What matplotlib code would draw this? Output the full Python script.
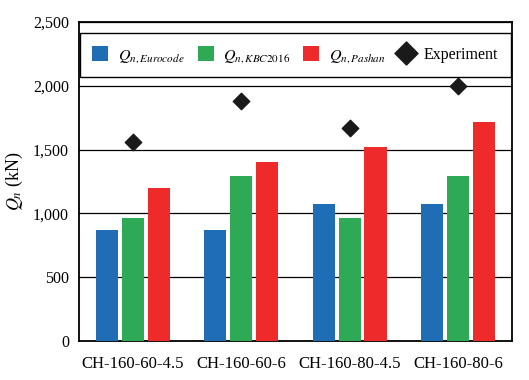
import matplotlib
matplotlib.use('Agg')
import matplotlib.pyplot as plt
import numpy as np

plt.rcParams['font.family'] = 'Liberation Serif'
plt.rcParams['mathtext.fontset'] = 'stix'

specimens = ['CH-160-60-4.5', 'CH-160-60-6', 'CH-160-80-4.5', 'CH-160-80-6']
eurocode = [868, 868, 1070, 1070]
kbc2016 = [960, 1290, 960, 1290]
pashan = [1198, 1400, 1520, 1715]
experiment = [1561, 1882, 1673, 2000]
yticks = [0, 500, 1000, 1500, 2000, 2500]

fig = plt.figure(figsize=(5.29, 3.80), dpi=100)
ax = fig.add_axes([0.149, 0.103, 0.819, 0.839])

x = np.arange(len(specimens))
w = 0.205
step = 0.24
b1 = ax.bar(x - step, eurocode, w, color='#1F6DB4', zorder=3)
b2 = ax.bar(x, kbc2016, w, color='#2EA955', zorder=3)
b3 = ax.bar(x + step, pashan, w, color='#EE2A2A', zorder=3)
sc = ax.scatter(x, experiment, marker='D', s=70, color='#1a1a1a', zorder=4)

ax.set_xlim(-0.5, 3.5)
ax.set_ylim(0, 2500)
ax.set_yticks(yticks)
ax.set_yticklabels([f'{v:,}' for v in yticks], fontsize=11.5)
ax.set_xticks(x)
ax.set_xticklabels(specimens, fontsize=12)
ax.tick_params(axis='x', length=0, pad=11)
ax.tick_params(axis='y', length=0, pad=7)
ax.grid(axis='y', color='black', linewidth=0.9, zorder=1)
for s in ax.spines.values():
    s.set_linewidth(1.3)
ax.set_ylabel(r'$Q_n$ (kN)', fontsize=13, labelpad=6)

handles = [b1, b2, b3, sc]
labels = [r'$Q_{n,Eurocode}$', r'$Q_{n,KBC2016}$', r'$Q_{n,Pashan}$', 'Experiment']
leg = ax.legend(handles, labels, loc='upper center', ncol=4, fontsize=11.5, frameon=True,
                fancybox=False, edgecolor='black', framealpha=1, handlelength=1.0,
                handleheight=1.1, handletextpad=0.6, columnspacing=0.8, borderpad=0.8,
                markerscale=1.4, bbox_to_anchor=(0.5, 0.99))
leg.get_frame().set_linewidth(1.0)

fig.savefig('out.png', dpi=100)
